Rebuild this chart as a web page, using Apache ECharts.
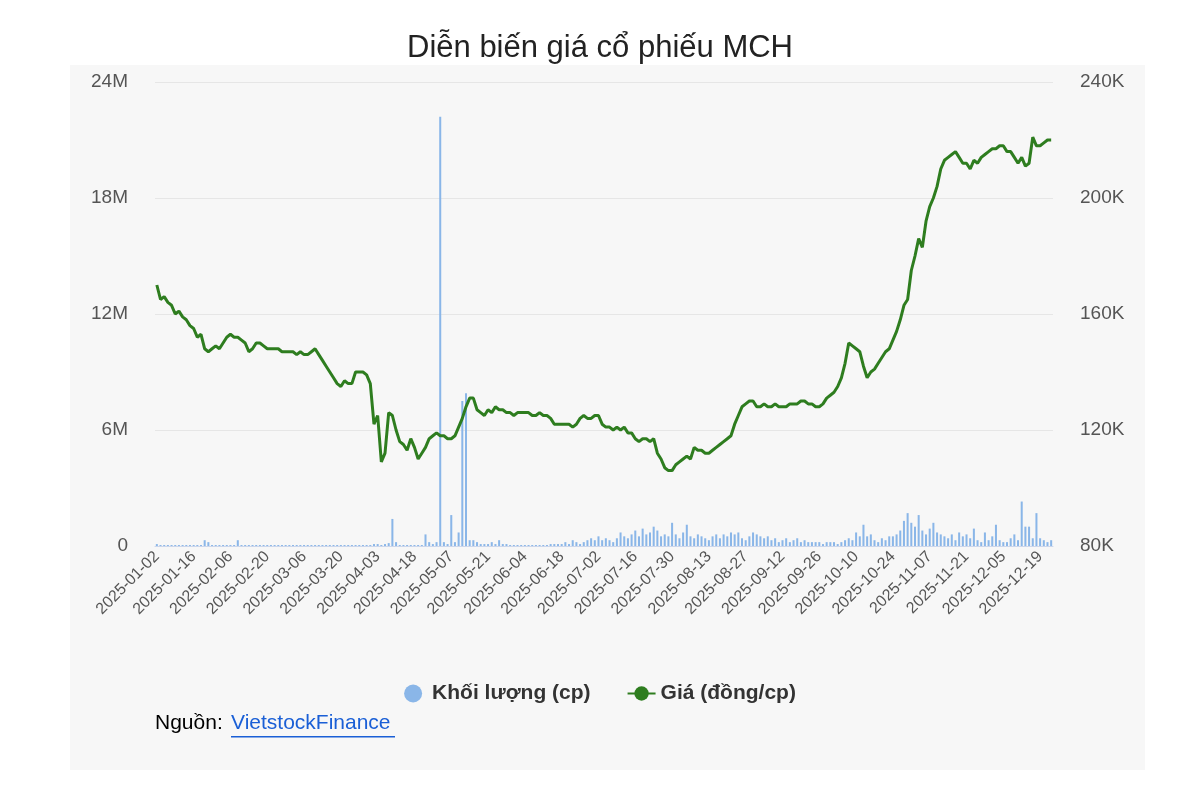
<!DOCTYPE html>
<html><head><meta charset="utf-8">
<script src="https://cdn.jsdelivr.net/npm/echarts@6/dist/echarts.min.js"></script>
<style>html,body{margin:0;padding:0;background:#fff}#c{width:1200px;height:798px}</style>
</head><body><div id="c"></div>
<script>
// Trading-day categories (weekdays of 2025 minus Vietnamese market holidays)
const holidays = ['2025-01-01','2025-01-27','2025-01-28','2025-01-29','2025-01-30','2025-01-31','2025-04-07','2025-04-30','2025-05-01','2025-05-02','2025-09-01','2025-09-02'];
const price = [
170,165,166,164,163,160,161,159,158,156,
155,152,153,148,147,148,149,148,150,152,
153,152,152,151,150,147,148,150,150,149,
148,148,148,148,147,147,147,147,146,147,
146,146,147,148,146,144,142,140,138,136,
135,137,136,136,140,140,140,139,136,122,
125,109,112,126,125,120,116,115,113,117,
114,110,112,114,117,118,119,118,118,117,
117,118,121,124,128,131,131,127,126,125,
127,126,128,127,127,126,126,125,126,126,
126,126,125,125,126,125,125,124,122,122,
122,122,122,121,122,124,125,124,124,125,
125,122,121,121,120,121,120,121,119,119,
117,116,117,117,116,117,112,110,107,106,
106,108,109,110,111,110,114,113,113,112,
112,113,114,115,116,117,118,122,125,128,
129,130,130,128,128,129,128,128,129,128,
128,128,129,129,129,130,130,129,129,128,
128,129,131,132,133,135,138,143,150,149,
148,147,142,138,140,141,143,145,147,148,
151,154,158,163,165,175,180,186,183,192,
197,200,204,210,213,214,215,216,214,212,
212,210,213,212,214,215,216,217,217,218,
218,216,216,214,212,214,211,212,221,218,
218,219,220,220];
const volume = [
0.1,0.05,0.05,0.05,0.05,0.05,0.05,0.05,0.05,0.05,
0.05,0.05,0.05,0.3,0.2,0.05,0.05,0.05,0.05,0.05,
0.05,0.05,0.3,0.05,0.05,0.05,0.05,0.05,0.05,0.05,
0.05,0.05,0.05,0.05,0.05,0.05,0.05,0.05,0.05,0.05,
0.05,0.05,0.05,0.05,0.05,0.05,0.05,0.05,0.05,0.05,
0.05,0.05,0.05,0.05,0.05,0.05,0.05,0.05,0.05,0.1,
0.1,0.05,0.1,0.15,1.4,0.2,0.05,0.05,0.05,0.05,
0.05,0.05,0.05,0.6,0.2,0.1,0.2,22.2,0.2,0.1,
1.6,0.2,0.7,7.5,7.9,0.3,0.3,0.2,0.1,0.1,
0.1,0.2,0.1,0.3,0.1,0.1,0.05,0.05,0.05,0.05,
0.05,0.05,0.05,0.05,0.05,0.05,0.05,0.1,0.1,0.1,
0.1,0.2,0.1,0.3,0.2,0.1,0.2,0.3,0.4,0.3,
0.5,0.3,0.4,0.3,0.2,0.4,0.7,0.5,0.4,0.6,
0.8,0.5,0.9,0.6,0.7,1.0,0.8,0.5,0.6,0.5,
1.2,0.6,0.4,0.7,1.1,0.5,0.4,0.6,0.5,0.4,
0.3,0.5,0.6,0.4,0.6,0.5,0.7,0.6,0.7,0.4,
0.3,0.5,0.7,0.6,0.5,0.4,0.5,0.3,0.4,0.2,
0.3,0.4,0.2,0.3,0.4,0.2,0.3,0.2,0.2,0.2,
0.2,0.1,0.2,0.2,0.2,0.1,0.2,0.3,0.4,0.3,
0.7,0.5,1.1,0.5,0.6,0.3,0.2,0.4,0.3,0.5,
0.5,0.6,0.8,1.3,1.7,1.2,1.0,1.6,0.8,0.6,
0.9,1.2,0.7,0.6,0.5,0.4,0.6,0.3,0.7,0.5,
0.6,0.4,0.9,0.3,0.2,0.7,0.3,0.5,1.1,0.3,
0.2,0.2,0.4,0.6,0.3,2.3,1.0,1.0,0.4,1.7,
0.4,0.3,0.2,0.3];
const titleText = 'Diễn biến giá cổ phiếu MCH';
const seriesNames = ['Khối lượng (cp)', 'Giá (đồng/cp)'];

const dates = [];
(function(){
  const d = new Date(Date.UTC(2025,0,1));
  while (dates.length < price.length) {
    const s = d.toISOString().slice(0,10);
    const wd = d.getUTCDay();
    if (wd !== 0 && wd !== 6 && holidays.indexOf(s) < 0) dates.push(s);
    d.setUTCDate(d.getUTCDate()+1);
  }
})();

const chart = echarts.init(document.getElementById('c'));
const font = 'Helvetica, Arial, "Liberation Sans", sans-serif';
chart.setOption({
  backgroundColor: '#fff',
  textStyle: {fontFamily: font},
  graphic: [
    {type:'rect', z:-10, shape:{x:70,y:65,width:1075,height:705}, style:{fill:'#f7f7f7'}},
    {type:'text', left:155, top:713, style:{text:'Nguồn: ', fill:'#000', font:'21px '+font}},
    {type:'text', left:231, top:713, style:{text:'VietstockFinance', fill:'#1a5fd6', font:'21px '+font}},
    {type:'rect', shape:{x:231,y:736,width:164,height:1.5}, style:{fill:'#1a5fd6'}}
  ],
  title: {text: titleText, left: 'center', top: 28, textStyle:{fontSize:31, fontWeight:'normal', color:'#222', fontFamily:font}},
  legend: {bottom: 89, left:'center', itemGap: 36, textStyle:{fontSize:21, fontWeight:'bold', color:'#333'},
    data:[{name:seriesNames[0], icon:'circle'}, {name:seriesNames[1]}], itemWidth:28, itemHeight:18},
  grid: {left:155, right:147, top:82, bottom:252},
  xAxis: {type:'category', data: dates, boundaryGap: true,
    axisLine:{lineStyle:{color:'#ccd6eb'}}, axisTick:{show:false},
    axisLabel:{rotate:45, interval:9, fontSize:16, color:'#555', margin:8}},
  yAxis: [
    {type:'value', min:0, max:24, interval:6, position:'left',
      axisLabel:{formatter: v => v===0?'0':v+'M', fontSize:19, color:'#555', margin:27},
      splitLine:{lineStyle:{color:'#e6e6e6'}}},
    {type:'value', min:80, max:240, interval:40, position:'right',
      axisLabel:{formatter: v => v+'K', fontSize:19, color:'#555', margin:27},
      splitLine:{show:false}}
  ],
  series: [
    {name:seriesNames[0], type:'bar', data: volume, yAxisIndex:0, barWidth:'55%',
      itemStyle:{color:'#8ab6e8'}},
    {name:seriesNames[1], type:'line', data: price, yAxisIndex:1, showSymbol:false, symbol:'circle', symbolSize:9,
      lineStyle:{color:'#2e7d1f', width:3}, itemStyle:{color:'#2e7d1f'}}
  ]
});
</script></body></html>
